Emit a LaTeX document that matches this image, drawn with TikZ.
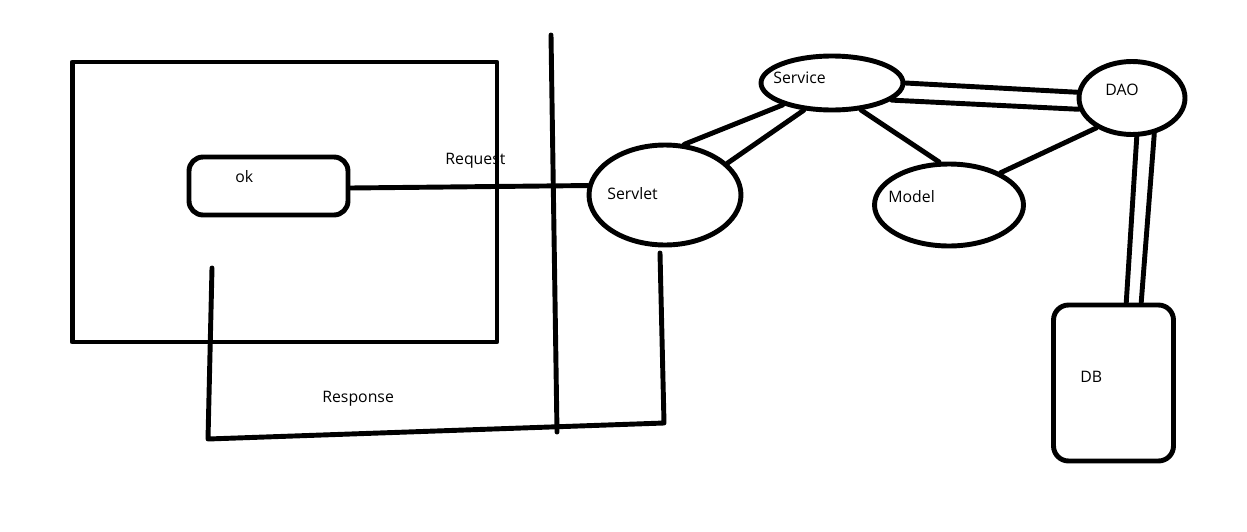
\documentclass[tikz,border=0pt]{standalone}
\usepackage{fontspec}
\setmainfont{Open Sans}
\usetikzlibrary{shapes.geometric}
\begin{document}
\begin{tikzpicture}[x=0.02cm,y=-0.02cm,
  ink/.style={line width=2.8pt,line cap=round,line join=round},
  oval/.style={ink,draw,ellipse,inner sep=0pt},
  box/.style={ink,draw,rectangle,inner sep=0pt},
  tag/.style={anchor=west,inner sep=0pt,font=\fontsize{9}{11}\selectfont}]
\useasboundingbox (0,0) rectangle (1247,531);

% client window and its button
\node[box,minimum width=8.5cm,minimum height=5.6cm] (frame) at (284.5,202) {};
\node[box,rounded corners=0.28cm,minimum width=3.18cm,minimum height=1.16cm] (ok) at (268.5,186) {};
\node[tag] (oktext) at (235,177) {ok};

% server side components
\node[oval,minimum width=3.04cm,minimum height=2.0cm] (srv) at (665,195) {};
\node[oval,minimum width=2.84cm,minimum height=1.08cm] (svc) at (832,83) {};
\node[oval,minimum width=2.12cm,minimum height=1.46cm] (dao) at (1132,98) {};
\node[oval,minimum width=2.98cm,minimum height=1.64cm] (mdl) at (949,205) {};
\node[box,rounded corners=0.3cm,minimum width=2.4cm,minimum height=3.12cm] (db) at (1113.5,383) {};

\node[tag] (srvtext) at (607,194) {Servlet};
\node[tag] (svctext) at (773,78) {Service};
\node[tag] (daotext) at (1105,90) {DAO};
\node[tag] (mdltext) at (888,197) {Model};
\node[tag] (dbtext) at (1080,377) {DB};

% client / server boundary
\coordinate (walltop) at (551,35);
\coordinate (wallbot) at (557,432);
\draw[ink] (walltop) -- (wallbot);

% request
\draw[ink] ([yshift=-0.04cm]ok.east) -- (srv.173);
\node[tag] (reqtext) at (445,161) {Request};

% response
\coordinate (r0) at (212,268);
\coordinate (r1) at (208,439);
\coordinate (r2) at (664,423);
\coordinate (r3) at (660,253);
\draw[ink] (r3) -- (r2) -- (r1) -- (r0);
\node[tag] (restext) at (322,399) {Response};

% links between components
\draw[ink] (srv.69) -- (svc.204);
\draw[ink] (srv.27) -- (svc.224);
\draw[ink] (svc.317) -- (mdl.103);
\draw[ink] (mdl.32) -- (dao.220);
\draw[ink] (svc.0) -- (dao.174);
\draw[ink] (svc.344) -- (dao.192);
\draw[ink] (dao.277) -- (db.81.6);
\draw[ink] (dao.302) -- (db.71.9);
\end{tikzpicture}
\end{document}
